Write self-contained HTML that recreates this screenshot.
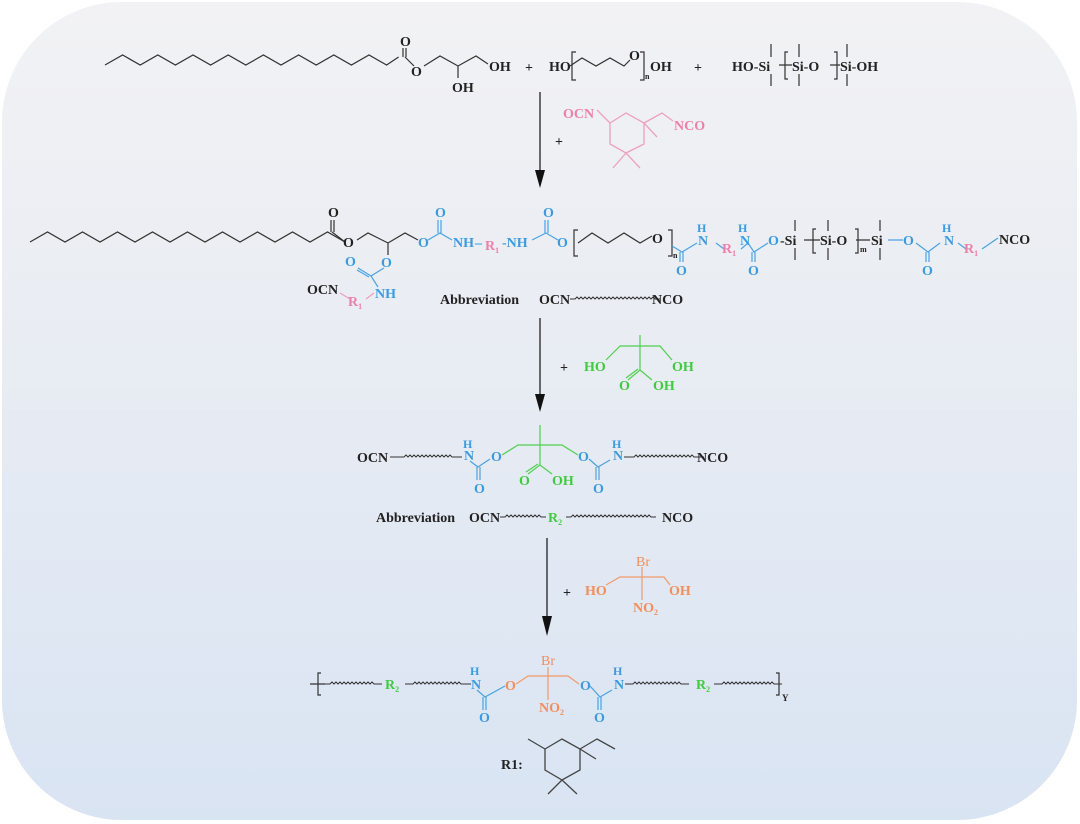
<!DOCTYPE html>
<html><head><meta charset="utf-8"><style>
html,body{margin:0;padding:0;background:#fff;}
svg{display:block;}
text{font-family:"Liberation Serif",serif;font-weight:bold;font-size:14px;}
.k{fill:#222}.b{fill:#3b9be0}.p{fill:#ec80ab}.g{fill:#3fcb3f}.o{fill:#f28e5a}
.lk{stroke:#333;stroke-width:1.2;fill:none}
.lb{stroke:#4aa3e2;stroke-width:1.2;fill:none}
.lp{stroke:#eda0bf;stroke-width:1.3;fill:none}
.lg{stroke:#4fcf4f;stroke-width:1.2;fill:none}
.lo{stroke:#f29a6a;stroke-width:1.2;fill:none}
.w{stroke:#333;stroke-width:1;fill:none}
</style></head><body>
<svg width="1080" height="824" viewBox="0 0 1080 824" xmlns="http://www.w3.org/2000/svg">
<defs>
<linearGradient id="bg" x1="0" y1="0" x2="0" y2="1">
<stop offset="0" stop-color="#f2f2f4"/><stop offset="0.45" stop-color="#e8ecf3"/><stop offset="1" stop-color="#d9e4f3"/>
</linearGradient>
</defs>
<rect x="2" y="2" width="1075" height="818" rx="120" ry="120" fill="url(#bg)"/>

<!-- ROW 1 -->
<path class="lk" d="M105,65 l17.6,-10 l17.6,10 l17.6,-10 l17.6,10 l17.6,-10 l17.6,10 l17.6,-10 l17.6,10 l17.6,-10 l17.6,10 l17.6,-10 l17.6,10 l17.6,-10 l17.6,10 l17.6,-10 l17.6,10 l12,-8"/>
<path class="lk" d="M403,57 L403,48 M406,57 L406,48 M405,57 L414,66"/>
<text class="k" x="400" y="46">O</text>
<text class="k" x="411" y="76">O</text>
<path class="lk" d="M424,66 L440,56 L458,66 L476,56 L488,64 M458,66 L458,78"/>
<text class="k" x="489" y="71">OH</text>
<text class="k" x="452" y="92">OH</text>
<text class="k" x="525" y="72">+</text>
<text class="k" x="549" y="71">HO</text>
<path class="lk" d="M570,66 L582,58 L596,66 L610,58 L624,66 L630,60 M576,52 L572,52 L572,80 L576,80 M640,52 L644,52 L644,80 L640,80"/>
<text class="k" x="629" y="60">O</text>
<text class="k" x="645" y="79" style="font-size:8px">n</text>
<text class="k" x="650" y="71">OH</text>
<text class="k" x="694" y="72">+</text>
<text class="k" x="732" y="71">HO-Si</text>
<path class="lk" d="M771,44 L771,57 M771,74 L771,86 M779,65 L792,65 M788,52 L785,52 L785,79 L788,79 M799,44 L799,57 M799,74 L799,86 M834,52 L837,52 L837,79 L834,79 M830,65 L840,65 M847,44 L847,57 M847,74 L847,86"/>
<text class="k" x="792" y="71">Si-O</text>
<text class="k" x="840" y="71">Si-OH</text>

<!-- Arrow 1 -->
<path d="M540,92 L540,172" stroke="#222" stroke-width="1.3"/>
<path d="M535,170 L545,170 L540,188 Z" fill="#111"/>
<text class="k" x="555" y="146">+</text>
<text class="p" x="563" y="118">OCN</text>
<path class="lp" d="M597,110 L610,123 M610,123 L626,113 L644,123 L644,144 L626,153 L610,144 Z M644,123 L657,137 M644,123 L662,113 L673,121 M626,153 L613,168 M626,153 L640,168"/>
<text class="p" x="674" y="130">NCO</text>

<!-- ROW 2 -->
<path class="lk" d="M30,242 l17.5,-10 l17.5,10 l17.5,-10 l17.5,10 l17.5,-10 l17.5,10 l17.5,-10 l17.5,10 l17.5,-10 l17.5,10 l17.5,-10 l17.5,10 l17.5,-10 l17.5,10 l17.5,-10 l17.5,10 l17.5,-10 l17.5,10"/>
<path class="lk" d="M345,242 L332,232 M331,232 L331,220 M334,232 L334,220 M357,240 L368,233 L388,243 L405,233 L418,240 M388,243 L388,255"/>
<text class="k" x="328" y="217">O</text>
<text class="k" x="343" y="247">O</text>
<text class="b" x="418" y="247">O</text>
<path class="lb" d="M428,240 L440,233 L452,240 M438,233 L438,220 M441,233 L441,220"/>
<text class="b" x="435" y="217">O</text>
<text class="b" x="453" y="247">NH</text>
<text class="b" x="475" y="247">–</text>
<text class="p" x="485" y="250">R<tspan style="font-size:8px" dy="3">1</tspan></text>
<text class="b" x="502" y="247">-NH</text>
<path class="lb" d="M532,240 L546,233 L558,240 M545,233 L545,220 M548,233 L548,220"/>
<text class="b" x="543" y="217">O</text>
<text class="b" x="557" y="247">O</text>
<path class="lk" d="M578,230 L574,230 L574,256 L578,256 M578,243 L592,233 L608,243 L624,233 L640,243 L652,236 M668,230 L672,230 L672,256 L668,256"/>
<text class="k" x="652" y="243">O</text>
<text class="k" x="673" y="258" style="font-size:8px">n</text>
<path class="lb" d="M672,246 L682,252 L697,243 M680,252 L680,262 M683,252 L683,262 M716,243 L724,249 M741,249 L748,243 L754,252 L768,243 M752,252 L752,262 M755,252 L755,262"/>
<text class="b" x="676" y="275">O</text>
<text class="b" x="697" y="232" style="font-size:12px">H</text>
<text class="b" x="698" y="245">N</text>
<text class="p" x="722" y="253">R<tspan style="font-size:8px" dy="3">1</tspan></text>
<text class="b" x="738" y="232" style="font-size:12px">H</text>
<text class="b" x="740" y="245">N</text>
<text class="b" x="748" y="275">O</text>
<text class="b" x="768" y="245">O</text>
<text class="k" x="780" y="245">-Si</text>
<path class="lk" d="M795,220 L795,231 M795,248 L795,260 M804,240 L820,240 M816,229 L813,229 L813,253 L816,253 M828,220 L828,231 M828,248 L828,260 M855,229 L858,229 L858,253 L855,253 M856,240 L870,240 M880,220 L880,231 M880,248 L880,260"/>
<text class="k" x="820" y="245">Si-O</text>
<text class="k" x="860" y="252" style="font-size:8px">m</text>
<text class="k" x="871" y="245">Si</text>
<path class="lb" d="M888,240 L903,240 M916,243 L928,252 L940,243 M926,252 L926,262 M929,252 L929,262 M958,243 L966,249 M982,249 L998,238"/>
<text class="b" x="903" y="245">O</text>
<text class="b" x="922" y="275">O</text>
<text class="b" x="942" y="232" style="font-size:12px">H</text>
<text class="b" x="944" y="245">N</text>
<text class="p" x="964" y="253">R<tspan style="font-size:8px" dy="3">1</tspan></text>
<text class="k" x="999" y="244">NCO</text>
<text class="b" x="381" y="267">O</text>
<path class="lb" d="M384,268 L371,276 L378,287 M371,276 L358,268 M369,277 L357,270"/>
<text class="b" x="345" y="266">O</text>
<text class="b" x="375" y="298">NH</text>
<path class="lp" d="M340,293 L350,299 M366,299 L374,293"/>
<text class="k" x="307" y="294">OCN</text>
<text class="p" x="348" y="306">R<tspan style="font-size:8px" dy="3">1</tspan></text>
<text class="k" x="440" y="304">Abbreviation</text>
<text class="k" x="539" y="304">OCN</text>
<path class="w" d="M570,299 l5,0 l2,-2 l2,2 l2,-2 l2,2 l2,-2 l2,2 l2,-2 l2,2 l2,-2 l2,2 l2,-2 l2,2 l2,-2 l2,2 l2,-2 l2,2 l2,-2 l2,2 l2,-2 l2,2 l2,-2 l2,2 l2,-2 l2,2 l2,-2 l2,2 l2,-2 l2,2 l2,-2 l2,2 l2,-2 l2,2 l2,-2 l2,2 l2,-2 l2,2 l2,-2 l2,2 l2,-2 l2,2 l5,0"/>
<text class="k" x="652" y="304">NCO</text>

<!-- Arrow 2 -->
<path d="M540,318 L540,396" stroke="#222" stroke-width="1.3"/>
<path d="M535,394 L545,394 L540,412 Z" fill="#111"/>
<text class="k" x="560" y="372">+</text>
<text class="g" x="584" y="371">HO</text>
<path class="lg" d="M606,360 L620,346 L640,346 L660,346 L672,360 M640,335 L640,346 L640,370 L628,380 M640,370 L652,380 M638,369 L626,378"/>
<text class="g" x="672" y="371">OH</text>
<text class="g" x="619" y="390">O</text>
<text class="g" x="653" y="390">OH</text>

<!-- ROW 3 -->
<text class="k" x="357" y="462">OCN</text>
<path class="w" d="M390,457 l14,0 l2,-2 l2,2 l2,-2 l2,2 l2,-2 l2,2 l2,-2 l2,2 l2,-2 l2,2 l2,-2 l2,2 l2,-2 l2,2 l2,-2 l2,2 l2,-2 l2,2 l2,-2 l2,2 l2,-2 l2,2 l2,-2 l2,2 l10,0"/>
<text class="b" x="463" y="448" style="font-size:12px">H</text>
<text class="b" x="464" y="460">N</text>
<path class="lb" d="M470,461 L478,467 L490,459 M477,467 L477,480 M480,467 L480,480"/>
<text class="b" x="474" y="493">O</text>
<text class="b" x="491" y="461">O</text>
<path class="lg" d="M502,455 L518,445 L540,445 L562,445 L578,455 M540,425 L540,445 L540,465 L528,474 M540,465 L552,474 M538,464 L526,472"/>
<text class="g" x="519" y="485">O</text>
<text class="g" x="552" y="485">OH</text>
<text class="b" x="578" y="461">O</text>
<path class="lb" d="M589,459 L598,467 L610,460 M596,467 L596,480 M599,467 L599,480"/>
<text class="b" x="593" y="493">O</text>
<text class="b" x="612" y="448" style="font-size:12px">H</text>
<text class="b" x="613" y="460">N</text>
<path class="w" d="M624,457 l10,0 l2,-2 l2,2 l2,-2 l2,2 l2,-2 l2,2 l2,-2 l2,2 l2,-2 l2,2 l2,-2 l2,2 l2,-2 l2,2 l2,-2 l2,2 l2,-2 l2,2 l2,-2 l2,2 l2,-2 l2,2 l2,-2 l2,2 l2,-2 l2,2 l2,-2 l2,2 l2,-2 l2,2 l10,0"/>
<text class="k" x="697" y="462">NCO</text>
<text class="k" x="376" y="522">Abbreviation</text>
<text class="k" x="469" y="522">OCN</text>
<path class="w" d="M500,517 l5,0 l2,-2 l2,2 l2,-2 l2,2 l2,-2 l2,2 l2,-2 l2,2 l2,-2 l2,2 l2,-2 l2,2 l2,-2 l2,2 l2,-2 l2,2 l2,-2 l2,2 l5,0"/>
<text class="g" x="548" y="522">R<tspan style="font-size:8px" dy="3">2</tspan></text>
<path class="w" d="M566,517 l5,0 l2,-2 l2,2 l2,-2 l2,2 l2,-2 l2,2 l2,-2 l2,2 l2,-2 l2,2 l2,-2 l2,2 l2,-2 l2,2 l2,-2 l2,2 l2,-2 l2,2 l2,-2 l2,2 l2,-2 l2,2 l2,-2 l2,2 l2,-2 l2,2 l2,-2 l2,2 l2,-2 l2,2 l2,-2 l2,2 l2,-2 l2,2 l2,-2 l2,2 l2,-2 l2,2 l2,-2 l2,2 l5,0"/>
<text class="k" x="662" y="522">NCO</text>

<!-- Arrow 3 -->
<path d="M547,538 L547,618" stroke="#222" stroke-width="1.3"/>
<path d="M542,616 L552,616 L547,636 Z" fill="#111"/>
<text class="k" x="563" y="597">+</text>
<text class="o" x="585" y="595">HO</text>
<path class="lo" d="M606,585 L620,577 L642,577 L664,577 L670,585 M642,567 L642,600"/>
<text class="o" x="636" y="566" style="font-weight:normal">Br</text>
<text class="o" x="669" y="595">OH</text>
<text class="o" x="633" y="612">NO<tspan style="font-size:8px" dy="3">2</tspan></text>

<!-- ROW 4 -->
<path class="lk" d="M310,684 L325,684 M321,673 L318,673 L318,695 L321,695"/>
<path class="w" d="M325,684 l5,0 l2,-2 l2,2 l2,-2 l2,2 l2,-2 l2,2 l2,-2 l2,2 l2,-2 l2,2 l2,-2 l2,2 l2,-2 l2,2 l2,-2 l2,2 l2,-2 l2,2 l2,-2 l2,2 l2,-2 l2,2 l8,0"/>
<text class="g" x="385" y="689">R<tspan style="font-size:8px" dy="3">2</tspan></text>
<path class="w" d="M405,684 l8,0 l2,-2 l2,2 l2,-2 l2,2 l2,-2 l2,2 l2,-2 l2,2 l2,-2 l2,2 l2,-2 l2,2 l2,-2 l2,2 l2,-2 l2,2 l2,-2 l2,2 l2,-2 l2,2 l2,-2 l2,2 l2,-2 l2,2 l10,0"/>
<text class="b" x="470" y="675" style="font-size:12px">H</text>
<text class="b" x="471" y="689">N</text>
<path class="lb" d="M477,690 L485,697 L505,686 M483,697 L483,710 M486,697 L486,710"/>
<text class="b" x="479" y="722">O</text>
<text class="o" x="505" y="690">O</text>
<path class="lo" d="M516,684 L528,676 L548,676 L568,676 L579,684 M548,667 L548,700"/>
<text class="o" x="541" y="665" style="font-weight:normal">Br</text>
<text class="o" x="539" y="712">NO<tspan style="font-size:8px" dy="3">2</tspan></text>
<text class="b" x="580" y="690">O</text>
<path class="lb" d="M590,686 L600,697 L612,690 M598,697 L598,710 M601,697 L601,710"/>
<text class="b" x="594" y="722">O</text>
<text class="b" x="613" y="675" style="font-size:12px">H</text>
<text class="b" x="614" y="689">N</text>
<path class="w" d="M625,684 l8,0 l2,-2 l2,2 l2,-2 l2,2 l2,-2 l2,2 l2,-2 l2,2 l2,-2 l2,2 l2,-2 l2,2 l2,-2 l2,2 l2,-2 l2,2 l2,-2 l2,2 l2,-2 l2,2 l2,-2 l2,2 l2,-2 l2,2 l8,0"/>
<text class="g" x="696" y="689">R<tspan style="font-size:8px" dy="3">2</tspan></text>
<path class="w" d="M714,684 l8,0 l2,-2 l2,2 l2,-2 l2,2 l2,-2 l2,2 l2,-2 l2,2 l2,-2 l2,2 l2,-2 l2,2 l2,-2 l2,2 l2,-2 l2,2 l2,-2 l2,2 l2,-2 l2,2 l2,-2 l2,2 l2,-2 l2,2 l2,-2 l2,2 l8,0"/>
<path class="lk" d="M776,673 L779,673 L779,695 L776,695"/>
<text class="k" x="782" y="701" style="font-size:9px">Y</text>

<!-- R1 -->
<text class="k" x="501" y="769">R1:</text>
<path d="M545,749 L562,739 L580,749 L580,770 L562,780 L545,770 Z M545,749 L528,739 M580,749 L597,739 L615,749 M580,749 L596,759 M562,780 L548,794 M562,780 L577,794" stroke="#444" stroke-width="1.3" fill="none"/>
</svg>
</body></html>
